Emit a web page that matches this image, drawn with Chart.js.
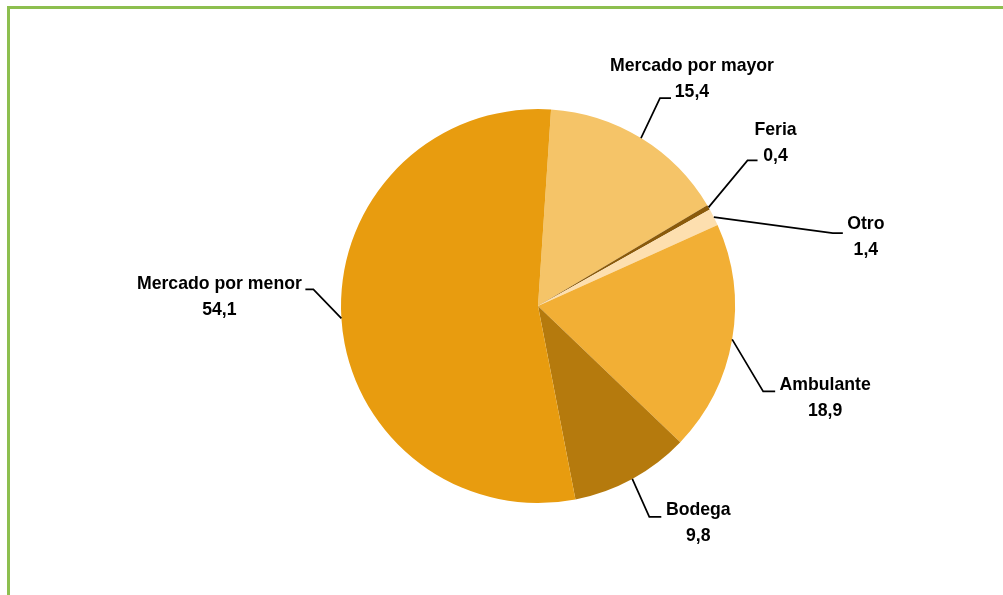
<!DOCTYPE html>
<html>
<head>
<meta charset="utf-8">
<script src="https://cdn.jsdelivr.net/npm/chart.js@4/dist/chart.umd.min.js"></script>
<style>
  html, body { margin: 0; padding: 0; background: #fff; overflow: hidden; }
  #wrap { position: relative; width: 1003px; height: 595px; }
  #frame { position: absolute; left: 7px; top: 6px; width: 1100px; height: 700px;
           border: 3px solid #8dbf4f; box-sizing: border-box; }
  #chart { position: absolute; left: 0; top: 0; }
</style>
</head>
<body>
<div id="wrap">
  <div id="frame"></div>
  <canvas id="chart" width="1003" height="595"></canvas>
</div>
<script>
const categories = ["Mercado por mayor", "Feria", "Otro", "Ambulante", "Bodega", "Mercado por menor"];
const shares = [15.4, 0.4, 1.4, 18.9, 9.8, 54.1];
const sliceColors = ["#f5c468", "#8a5a0b", "#fddfaf", "#f2af35", "#b57a0d", "#e89c0f"];

// leader line layout: elbow offset from slice edge, tail length, first text line centre from tail end
const labelLayout = [
  { elbow: [19, -40], tail: 11, text: [21, -32] },
  { elbow: [39, -47], tail: 10, text: [18, -31] },
  { elbow: [119, 16], tail: 10, text: [23, -9] },
  { elbow: [31, 52], tail: 12, text: [50, -7] },
  { elbow: [17, 38], tail: 12, text: [37, -7] },
  { elbow: [-28, -29], tail: -8, text: [-86, -6] },
];

const fmt = (v) => v.toFixed(1).replace(".", ",");

// draw text squeezed horizontally to mimic a narrow bold face
function narrowText(ctx, str, x, y) {
  ctx.save();
  ctx.translate(x, y);
  ctx.scale(0.93, 1);
  ctx.fillText(str, 0, 0);
  ctx.restore();
}

const leaderLabels = {
  id: "leaderLabels",
  afterDatasetsDraw(chart) {
    const ctx = chart.ctx;
    const meta = chart.getDatasetMeta(0);
    ctx.save();
    ctx.font = "bold 19px 'Liberation Sans', Arial, sans-serif";
    ctx.textAlign = "center";
    ctx.textBaseline = "middle";
    meta.data.forEach((arc, i) => {
      const p = arc.getProps(["x", "y", "startAngle", "endAngle", "outerRadius"], true);
      const mid = (p.startAngle + p.endAngle) / 2;
      const ex = p.x + Math.cos(mid) * p.outerRadius;
      const ey = p.y + Math.sin(mid) * p.outerRadius;
      const lay = labelLayout[i];
      const bx = ex + lay.elbow[0];
      const by = ey + lay.elbow[1];
      const tx = bx + lay.tail;
      ctx.strokeStyle = "#000";
      ctx.lineWidth = 1.7;
      ctx.beginPath();
      ctx.moveTo(ex, ey);
      ctx.lineTo(bx, by);
      ctx.lineTo(tx, by);
      ctx.stroke();
      ctx.fillStyle = "#000";
      const cx = tx + lay.text[0];
      const cy = by + lay.text[1];
      narrowText(ctx, categories[i], cx, cy);
      narrowText(ctx, fmt(shares[i]), cx, cy + 26);
    });
    ctx.restore();
  },
};

new Chart(document.getElementById("chart"), {
  type: "pie",
  data: {
    labels: categories,
    datasets: [
      {
        data: shares,
        backgroundColor: sliceColors,
        borderWidth: 0,
      },
    ],
  },
  options: {
    responsive: false,
    animation: false,
    rotation: 3.8,
    layout: { padding: { left: 341, right: 268, top: 109, bottom: 92 } },
    plugins: {
      legend: { display: false },
      tooltip: { enabled: false },
    },
  },
  plugins: [leaderLabels],
});
</script>
</body>
</html>
